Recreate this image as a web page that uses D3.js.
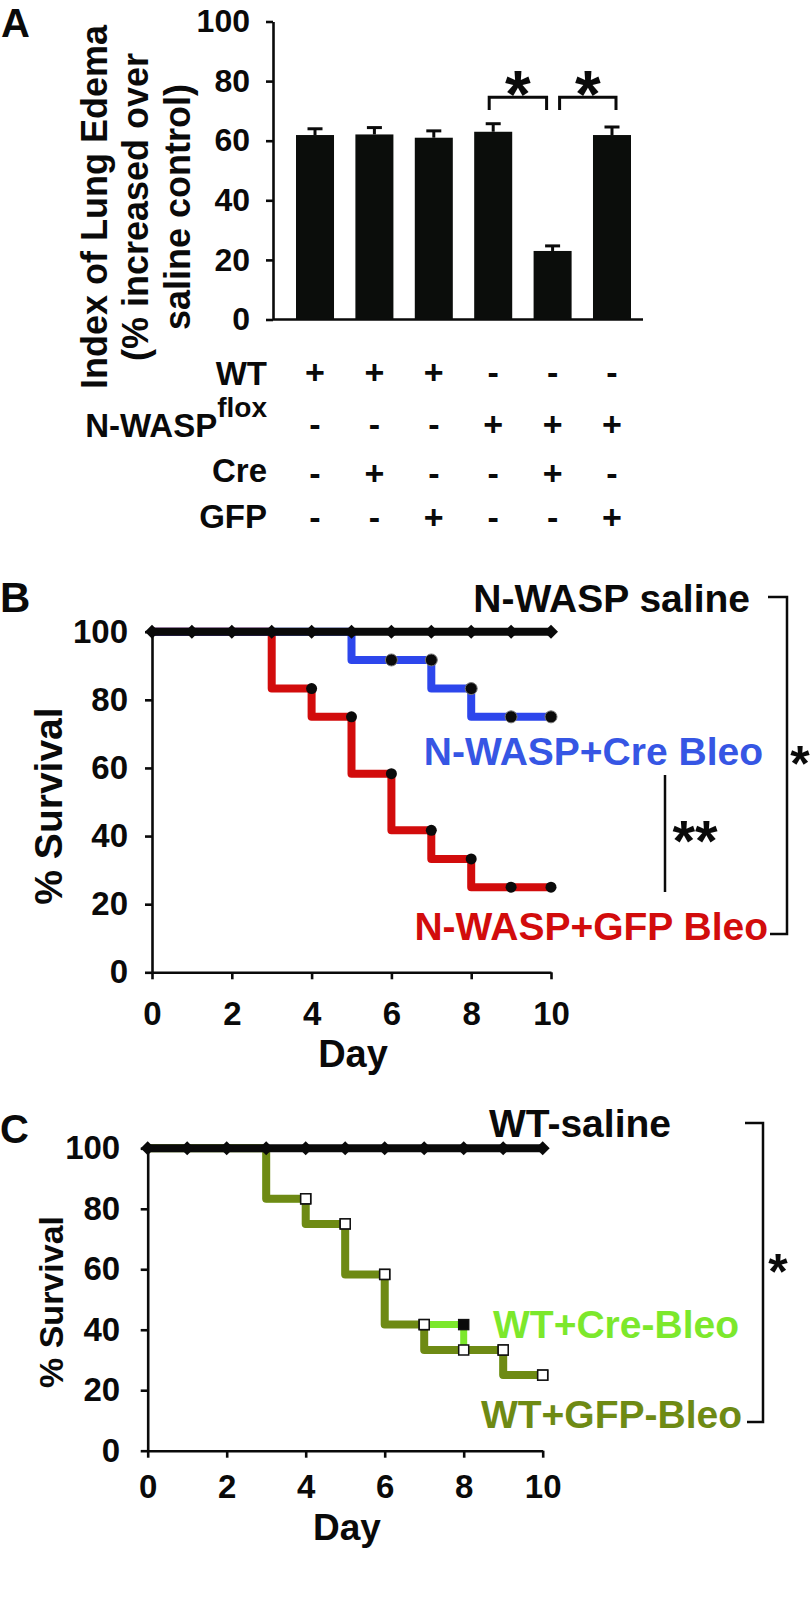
<!DOCTYPE html>
<html><head><meta charset="utf-8">
<script src="https://cdn.jsdelivr.net/npm/d3@7"></script>
<style>
html,body{margin:0;padding:0;background:#fff;}
svg{display:block;font-family:"Liberation Sans",Arial,Helvetica,sans-serif;font-weight:bold;}
</style></head><body>
<svg id="fig" width="812" height="1604"></svg>
<script>
// ---------- Panel A data ----------
const groupsA = ["g1","g2","g3","g4","g5","g6"];
const edemaMean = [61.9, 62.1, 61.0, 63.0, 23.0, 61.9];
const edemaErr  = [2.1, 2.3, 2.3, 2.7, 1.7, 2.7];
const ticksA = [0, 20, 40, 60, 80, 100];
const tableLabels = ["WT", "N-WASP", "Cre", "GFP"];
const tableWT    = ["+","+","+","-","-","-"];
const tableNWASP = ["-","-","-","+","+","+"];
const tableCre   = ["-","+","-","-","+","-"];
const tableGFP   = ["-","-","+","-","-","+"];

// ---------- Panel B data ----------
const days = [0,1,2,3,4,5,6,7,8,9,10];
const survNWaspSaline = [100,100,100,100,100,100,100,100,100,100,100];
const survNWaspCre    = [100,100,100,100,100,100,91.7,91.7,83.3,75,75];
const survNWaspGFP    = [100,100,100,100,83.3,75,58.3,41.7,33.3,25,25];

// ---------- Panel C data ----------
const survWTSaline = [100,100,100,100,100,100,100,100,100,100,100];
const survWTCre    = [100,100,100,100,83.3,75,58.3,41.7,41.7,33.3,25];
const survWTGFP    = [100,100,100,100,83.3,75,58.3,41.7,33.3,33.3,25];

const ticksSurv = [0, 20, 40, 60, 80, 100];
const ticksDay  = [0, 2, 4, 6, 8, 10];

const INK = "#0a0a0a";
const RED = "#d20c0c", BLUE = "#2d46ec", OLIVE = "#6e8a14", LIME = "#7ce82c";

const svg = d3.select("#fig");
svg.append("rect").attr("width",812).attr("height",1604).attr("fill","#fff");

function styleAxis(g, fs){
  g.attr("font-family", null).attr("font-size", fs).attr("font-weight","bold");
  g.selectAll("path,line").attr("stroke", INK).attr("stroke-width", 2.6);
  g.selectAll("text").attr("fill", INK);
}
function txt(x, y, s, fs, anchor, color){
  return svg.append("text").attr("x",x).attr("y",y).attr("font-size",fs)
    .attr("text-anchor",anchor||"start").attr("fill",color||INK).text(s);
}
function vtxt(x, y, s, fs){
  return svg.append("text").attr("transform",`translate(${x},${y}) rotate(-90)`)
    .attr("font-size",fs).attr("text-anchor","middle").attr("fill",INK).text(s);
}
function star(cx, cy, s, fs){
  return txt(cx, cy + 0.575*fs, s, fs, "middle");
}

// =================== PANEL A ===================
const yA = d3.scaleLinear().domain([0,100]).range([319.5, 21.5]);
const xA = d3.scaleBand().domain(groupsA).range([296, 631]).paddingInner(0.36).paddingOuter(0);
const cA = g => xA(g) + xA.bandwidth()/2;

txt(1, 37, "A", 40);

const gA = svg.append("g").attr("transform","translate(273,0)")
  .call(d3.axisLeft(yA).tickValues(ticksA).tickSize(7).tickPadding(16).tickSizeOuter(0));
styleAxis(gA, 32);
svg.append("line").attr("x1",273).attr("x2",643).attr("y1",yA(0)).attr("y2",yA(0))
  .attr("stroke",INK).attr("stroke-width",2.6);

// y label (3 lines)
vtxt(107, 207, "Index of Lung Edema", 36);
vtxt(148, 207, "(% increased over", 36);
vtxt(190, 207, "saline control)", 36);

// bars
svg.append("g").selectAll("rect").data(groupsA).join("rect")
  .attr("x", g => xA(g)).attr("width", xA.bandwidth())
  .attr("y", (g,i) => yA(edemaMean[i]))
  .attr("height", (g,i) => yA(0) - yA(edemaMean[i]))
  .attr("fill", "#0b0d0b");
// error bars
const eg = svg.append("g").attr("stroke", INK).attr("stroke-width", 3);
groupsA.forEach((g,i) => {
  const c = cA(g), top = yA(edemaMean[i] + edemaErr[i]);
  eg.append("line").attr("x1",c).attr("x2",c).attr("y1",yA(edemaMean[i])).attr("y2",top);
  eg.append("line").attr("x1",c-7.5).attr("x2",c+7.5).attr("y1",top).attr("y2",top);
});
// significance brackets
function bracketA(i, j, dl, dr){
  const x1 = cA(groupsA[i]) + dl, x2 = cA(groupsA[j]) + dr;
  const yt = yA(74.6), yl = yA(70.3);
  svg.append("path").attr("d",`M${x1},${yl}V${yt}H${x2}V${yl}`)
    .attr("fill","none").attr("stroke",INK).attr("stroke-width",3);
  star((x1+x2)/2, 79, "*", 66);
}
bracketA(3, 4, -4, -6);
bracketA(4, 5, 7, 4);

// table
const tableVals = [tableWT, tableNWASP, tableCre, tableGFP];
const rowBase = [385, 437, 482, 528];
const rowSign = [372, 424, 473, 517];
tableLabels.forEach((lab, r) => {
  const t = txt(267, rowBase[r], lab, 33, "end");
  if (lab === "N-WASP") t.append("tspan").attr("dy",-20).attr("font-size",28).text("flox");
  groupsA.forEach((g, i) => {
    svg.append("text").attr("x", cA(g)).attr("y", rowSign[r]).attr("font-size", 34)
      .attr("text-anchor","middle").attr("dominant-baseline","central")
      .attr("fill", INK).text(tableVals[r][i]);
  });
});

// =================== survival panels ===================
const diamond = "M0,-7L7,0L0,7L-7,0Z";
function survivalPanel(cfg){
  const x = d3.scaleLinear().domain([0,10]).range(cfg.xr);
  const y = d3.scaleLinear().domain([0,100]).range(cfg.yr);
  const gy = svg.append("g").attr("transform",`translate(${cfg.xr[0]},0)`)
    .call(d3.axisLeft(y).tickValues(ticksSurv).tickSize(7).tickPadding(cfg.yPad).tickSizeOuter(0));
  styleAxis(gy, cfg.tickFs);
  const gx = svg.append("g").attr("transform",`translate(0,${cfg.yr[0]})`)
    .call(d3.axisBottom(x).tickValues(ticksDay).tickSize(7).tickPadding(cfg.xPad).tickSizeOuter(0));
  styleAxis(gx, cfg.tickFs);
  const line = d3.line().x((d,i) => x(days[i])).y(d => y(d)).curve(d3.curveStepBefore);
  cfg.series.forEach(s => {
    svg.append("path").attr("d", line(s.values)).attr("fill","none")
      .attr("stroke", s.color).attr("stroke-width", s.width)
      .attr("stroke-linejoin","round");
  });
  cfg.series.forEach(s => {
    const pts = s.values.map((v,i) => [days[i], v]).filter(p => p[1] < 100);
    if (s.marker === "circle") {
      svg.append("g").selectAll("circle").data(pts).join("circle")
        .attr("cx", p => x(p[0])).attr("cy", p => y(p[1])).attr("r", s.r)
        .attr("fill", "#0a0a0a").attr("stroke", s.mstroke || "none").attr("stroke-width", 1);
    } else if (s.marker === "square") {
      svg.append("g").selectAll("rect").data(pts).join("rect")
        .attr("x", p => x(p[0]) - 5).attr("y", p => y(p[1]) - 5)
        .attr("width", 10).attr("height", 10)
        .attr("fill", s.mfill).attr("stroke", "#111").attr("stroke-width", 1.5);
    }
  });
  // saline (black) line on top with diamond markers
  svg.append("path").attr("d", line(cfg.saline)).attr("fill","none")
    .attr("stroke", INK).attr("stroke-width", 8);
  svg.append("g").selectAll("path").data(cfg.saline).join("path")
    .attr("transform", (d,i) => `translate(${x(days[i])},${y(d)})`)
    .attr("d", diamond).attr("fill", INK);
  return {x, y};
}

// ---- Panel B ----
txt(0, 612, "B", 42);
survivalPanel({
  xr: [152, 551], yr: [972.3, 631.7], yPad: 17, xPad: 22, tickFs: 33,
  saline: survNWaspSaline,
  series: [
    {values: survNWaspGFP, color: RED, width: 8, marker: "circle", r: 5.5},
    {values: survNWaspCre, color: BLUE, width: 8, marker: "circle", r: 6, mstroke: "#777"}
  ]
});
vtxt(62, 806, "% Survival", 39);
txt(353, 1067, "Day", 38, "middle");
txt(750, 612, "N-WASP saline", 39, "end");
txt(763, 765, "N-WASP+Cre Bleo", 39, "end", "#3656e4");
txt(768, 940, "N-WASP+GFP Bleo", 39, "end", RED);
svg.append("line").attr("x1",665).attr("x2",665).attr("y1",775).attr("y2",892)
  .attr("stroke",INK).attr("stroke-width",2.5);
star(695, 828, "**", 58);
svg.append("path").attr("d","M768,597H787V934H770").attr("fill","none")
  .attr("stroke",INK).attr("stroke-width",2.5);
star(800, 752, "*", 50);

// ---- Panel C ----
txt(0, 1143, "C", 40);
survivalPanel({
  xr: [147.7, 542.7], yr: [1450.7, 1148.3], yPad: 20.5, xPad: 17, tickFs: 33,
  saline: survWTSaline,
  series: [
    {values: survWTCre, color: LIME, width: 7, marker: "square", mfill: "#0a0a0a"},
    {values: survWTGFP, color: OLIVE, width: 8, marker: "square", mfill: "#fff"}
  ]
});
vtxt(63, 1302, "% Survival", 34);
txt(347, 1540, "Day", 37, "middle");
txt(671, 1137, "WT-saline", 39, "end");
txt(739, 1338, "WT+Cre-Bleo", 39, "end", LIME);
txt(742, 1428, "WT+GFP-Bleo", 39, "end", OLIVE);
svg.append("path").attr("d","M745,1123H763V1422H747").attr("fill","none")
  .attr("stroke",INK).attr("stroke-width",2.5);
star(778, 1260, "*", 50);
</script>
</body></html>
